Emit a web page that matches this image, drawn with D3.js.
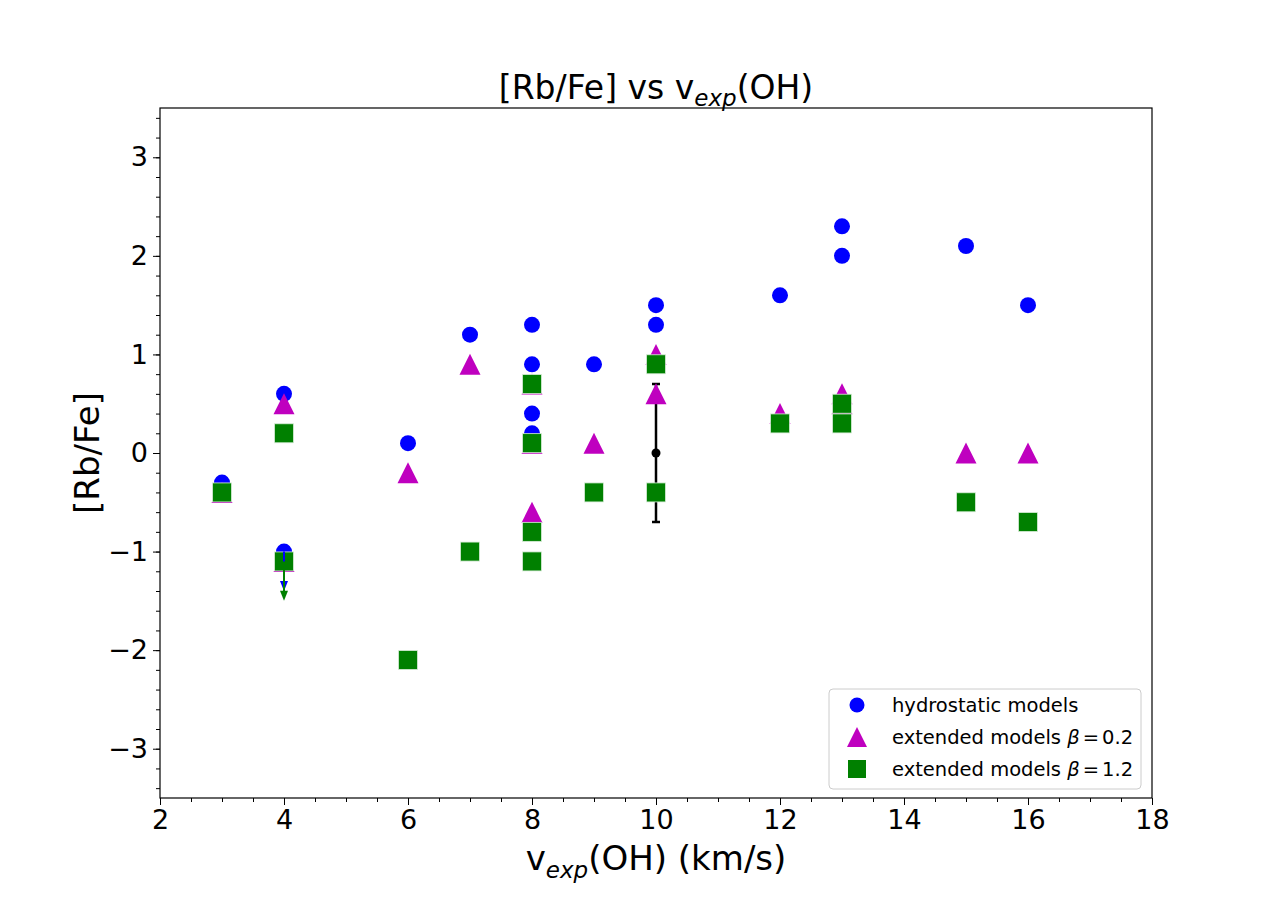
<!DOCTYPE html>
<html>
<head>
<meta charset="utf-8">
<script src="https://cdn.jsdelivr.net/npm/d3@7"></script>
<style>
  body { margin: 0; background: #fff; }
  svg { font-family: "DejaVu Sans", sans-serif; }
</style>
</head>
<body>
<script>
// hydrostatic models
var hydroX = [3, 4, 4, 6, 7, 8, 8, 8, 8, 9, 10, 10, 10, 12, 13, 13, 15, 16];
var hydroY = [-0.3, 0.6, -1.0, 0.1, 1.2, 1.3, 0.9, 0.4, 0.2, 0.9, 1.5, 1.3, 0.9, 1.6, 2.3, 2.0, 2.1, 1.5];
// extended models beta = 0.2
var ext02X = [3, 4, 4, 6, 7, 8, 8, 8, 9, 10, 10, 12, 13, 13, 15, 16];
var ext02Y = [-0.4, 0.5, -1.1, -0.2, 0.9, 0.7, 0.1, -0.6, 0.1, 1.0, 0.6, 0.4, 0.6, 0.5, 0.0, 0.0];
// extended models beta = 1.2
var ext12X = [3, 4, 4, 6, 7, 8, 8, 8, 8, 9, 10, 10, 12, 13, 13, 15, 16];
var ext12Y = [-0.4, 0.2, -1.1, -2.1, -1.0, 0.7, 0.1, -0.8, -1.1, -0.4, 0.9, -0.4, 0.3, 0.5, 0.3, -0.5, -0.7];
// typical error bar
var errX = [10], errY = [0], errSize = [0.7];
// upper limits [x, from, to]
var limitsBlue = [[4, -1.0, -1.4]];
var limitsGreen = [[4, -1.1, -1.5]];

var xTicks = [2, 4, 6, 8, 10, 12, 14, 16, 18];
var yTicks = [-3, -2, -1, 0, 1, 2, 3];

var W = 1280, H = 898;
var pL = 160, pR = 1152, pT = 108, pB = 798;

var svg = d3.select('body').append('svg')
  .attr('width', W).attr('height', H);

var x = d3.scaleLinear().domain([2, 18]).range([pL, pR]);
var y = d3.scaleLinear().domain([-3.5, 3.5]).range([pB, pT]);

// axes
var xAxis = d3.axisBottom(x).tickValues(xTicks).tickSize(7).tickPadding(5).tickFormat(d3.format('d'));
var xMinor = d3.axisBottom(x).tickValues(d3.range(2, 18.01, 0.5)).tickSize(4).tickFormat('');
var yAxis = d3.axisLeft(y).tickValues(yTicks).tickSize(7).tickPadding(5)
  .tickFormat(function(d) { return d < 0 ? '\u2212' + Math.abs(d) : d; });
var yMinor = d3.axisLeft(y).tickValues(d3.range(-3.4, 3.41, 0.2)).tickSize(4).tickFormat('');

function styleAxis(g) {
  g.select('.domain').remove();
  g.selectAll('line').attr('stroke', '#000').attr('stroke-width', 1);
  g.selectAll('text').attr('font-size', 27).attr('fill', '#000')
    .attr('font-family', '"DejaVu Sans", sans-serif');
}

svg.append('g').attr('transform', 'translate(0,' + pB + ')').call(xMinor).call(styleAxis);
svg.append('g').attr('transform', 'translate(0,' + pB + ')').call(xAxis).call(styleAxis);
svg.append('g').attr('transform', 'translate(' + pL + ',0)').call(yMinor).call(styleAxis);
svg.append('g').attr('transform', 'translate(' + pL + ',0)').call(yAxis).call(styleAxis);

var plot = svg.append('g');

// error bar
errX.forEach(function(v, i) {
  var cx = x(v), y0 = y(errY[i] - errSize[i]), y1 = y(errY[i] + errSize[i]);
  plot.append('line').attr('x1', cx).attr('x2', cx).attr('y1', y0).attr('y2', y1)
    .attr('stroke', '#000').attr('stroke-width', 2.5);
  [y0, y1].forEach(function(yy) {
    plot.append('line').attr('x1', cx - 4).attr('x2', cx + 4).attr('y1', yy).attr('y2', yy)
      .attr('stroke', '#000').attr('stroke-width', 2.5);
  });
  plot.append('circle').attr('cx', cx).attr('cy', y(errY[i])).attr('r', 4.5).attr('fill', '#000');
});

var blue = '#0000ff', magenta = '#bf00bf', green = '#008000';

plot.selectAll('circle.hydro')
  .data(hydroX.map(function(d, i) { return [d, hydroY[i]]; }))
  .enter().append('circle')
  .attr('class', 'hydro')
  .attr('cx', function(d) { return x(d[0]); })
  .attr('cy', function(d) { return y(d[1]); })
  .attr('r', 8)
  .attr('fill', blue);

plot.selectAll('path.ext02')
  .data(ext02X.map(function(d, i) { return [d, ext02Y[i]]; }))
  .enter().append('path')
  .attr('class', 'ext02')
  .attr('d', 'M0,-10.5L10.5,10.5L-10.5,10.5Z')
  .attr('transform', function(d) { return 'translate(' + x(d[0]) + ',' + y(d[1]) + ')'; })
  .attr('fill', magenta);

plot.selectAll('rect.ext12')
  .data(ext12X.map(function(d, i) { return [d, ext12Y[i]]; }))
  .enter().append('rect')
  .attr('class', 'ext12')
  .attr('x', function(d) { return x(d[0]) - 9.5; })
  .attr('y', function(d) { return y(d[1]) - 9.5; })
  .attr('width', 19).attr('height', 19)
  .attr('fill', green)
  .attr('stroke', '#d8ecd8').attr('stroke-width', 0.8);

// upper limit arrows
function arrow(l, col) {
  var cx = x(l[0]), y0 = y(l[1]), y1 = y(l[2]);
  plot.append('line').attr('x1', cx).attr('x2', cx).attr('y1', y0).attr('y2', y1 - 8)
    .attr('stroke', col).attr('stroke-width', 2);
  plot.append('path')
    .attr('d', 'M' + (cx - 4) + ',' + (y1 - 10) + 'L' + (cx + 4) + ',' + (y1 - 10) + 'L' + cx + ',' + y1 + 'Z')
    .attr('fill', col);
}
limitsBlue.forEach(function(l) { arrow(l, blue); });
limitsGreen.forEach(function(l) { arrow(l, green); });

// frame
svg.append('rect').attr('x', pL).attr('y', pT)
  .attr('width', pR - pL).attr('height', pB - pT)
  .attr('fill', 'none').attr('stroke', '#000').attr('stroke-width', 1.2);

// title
var title = svg.append('text').attr('x', (pL + pR) / 2).attr('y', 99)
  .attr('text-anchor', 'middle').attr('font-size', 33).attr('fill', '#000');
title.append('tspan').text('[Rb/Fe] vs v');
title.append('tspan').attr('font-size', 23).attr('font-style', 'italic').attr('dy', 7).text('exp');
title.append('tspan').attr('dy', -7).text('(OH)');

// x label
var xl = svg.append('text').attr('x', (pL + pR) / 2).attr('y', 870)
  .attr('text-anchor', 'middle').attr('font-size', 34).attr('fill', '#000');
xl.append('tspan').text('v');
xl.append('tspan').attr('font-size', 23).attr('font-style', 'italic').attr('dy', 8).text('exp');
xl.append('tspan').attr('dy', -8).text('(OH) (km/s)');

// y label
svg.append('text')
  .attr('transform', 'translate(99,' + ((pT + pB) / 2) + ') rotate(-90)')
  .attr('text-anchor', 'middle').attr('font-size', 34).attr('fill', '#000')
  .text('[Rb/Fe]');

// legend
var lg = svg.append('g').attr('transform', 'translate(829,689)');
lg.append('rect').attr('width', 312).attr('height', 100).attr('rx', 4)
  .attr('fill', '#fff').attr('fill-opacity', 0.8).attr('stroke', '#ccc');
var items = [
  { label: 'hydrostatic models', beta: null, kind: 'c' },
  { label: 'extended models ', beta: '0.2', kind: 't' },
  { label: 'extended models ', beta: '1.2', kind: 's' }
];
items.forEach(function(it, i) {
  var yy = 16 + i * 32;
  if (it.kind === 'c') lg.append('circle').attr('cx', 28).attr('cy', yy).attr('r', 7.5).attr('fill', blue);
  if (it.kind === 't') lg.append('path').attr('d', 'M28,' + (yy - 10) + 'L38,' + (yy + 10) + 'L18,' + (yy + 10) + 'Z').attr('fill', magenta);
  if (it.kind === 's') lg.append('rect').attr('x', 19).attr('y', yy - 9).attr('width', 18).attr('height', 18).attr('fill', green);
  var t = lg.append('text').attr('x', 63).attr('y', yy + 7).attr('font-size', 19.5).attr('fill', '#000');
  t.append('tspan').text(it.label);
  if (it.beta) {
    t.append('tspan').attr('font-style', 'italic').text('\u03b2');
    t.append('tspan').attr('dx', 3).text('=');
    t.append('tspan').attr('dx', 3).text(it.beta);
  }
});
</script>
</body>
</html>
